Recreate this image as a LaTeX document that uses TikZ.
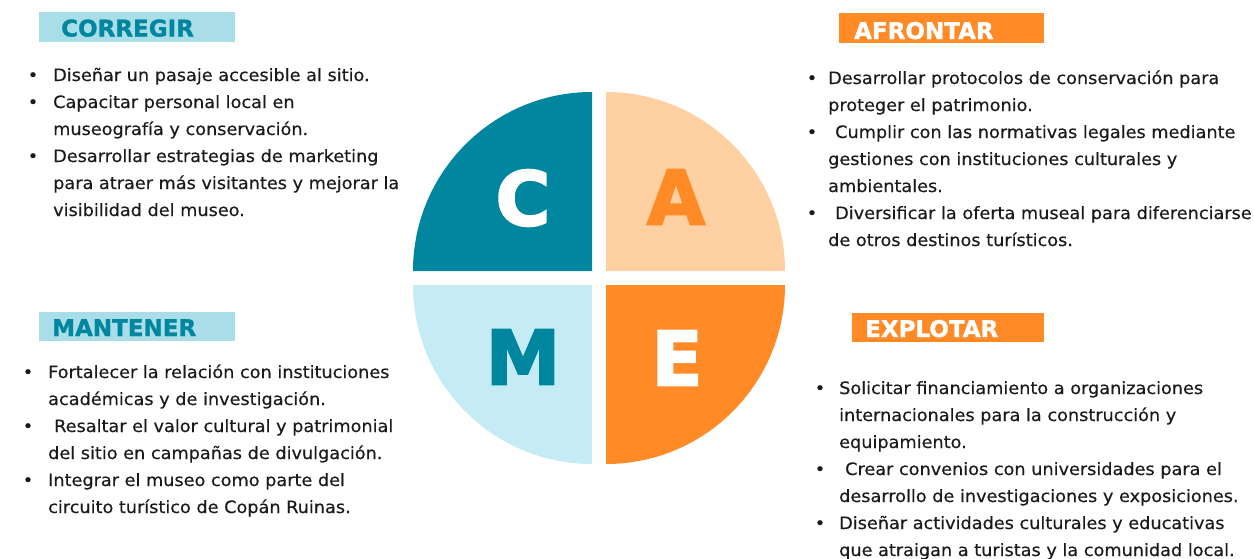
\documentclass[tikz,border=0pt]{standalone}
\usepackage{fontspec}
\setmainfont{DejaVu Sans}
\newfontfamily\bodyfont{DejaVu Sans}[FakeStretch=1.04,FakeBold=0.4]
\newfontfamily\headfont{DejaVu Sans Bold}[FakeBold=1.2]
\newfontfamily\bigfont{DejaVu Sans Bold}[FakeBold=2.5]
\definecolor{teal}{HTML}{00869F}
\definecolor{lcyan}{HTML}{C5ECF4}
\definecolor{hcyan}{HTML}{A9DDE7}
\definecolor{peach}{HTML}{FFD0A1}
\definecolor{orng}{HTML}{FF8A26}
\definecolor{bodytext}{HTML}{1A1A1A}
\tikzset{
  body/.style={font=\bodyfont\fontsize{17pt}{20pt}\selectfont, anchor=base west, inner sep=0pt, text=bodytext},
  bul/.style={font=\bodyfont\fontsize{17pt}{20pt}\selectfont, anchor=base, inner sep=0pt, text=bodytext},
  hbox/.style={anchor=north west, inner sep=0pt, minimum width=196pt, minimum height=30pt},
  htext/.style={font=\headfont\fontsize{23pt}{26pt}\selectfont, anchor=base west, inner sep=0pt},
  big/.style={font=\bigfont\fontsize{75pt}{80pt}\selectfont, inner sep=0pt}
}
\begin{document}
\begin{tikzpicture}[x=1pt,y=-1pt]
\useasboundingbox (0,0) rectangle (1254,558);
% pie quadrants
\fill[teal] (592,271) -- (413,271) arc (180:270:179) -- cycle;
\fill[peach] (606,271) -- (606,92) arc (270:360:179) -- cycle;
\fill[orng] (606,285) -- (785,285) arc (0:90:179) -- cycle;
\fill[lcyan] (592,285) -- (592,464) arc (90:180:179) -- cycle;
\node[big, text=white] (lc) at (523,198) {C};
\node[big, text=orng] (la) at (676,197) {A};
\node[big, text=teal] (lm) at (523,357) {M};
\node[big, text=white] (le) at (677,358) {E};
% headings
\node[hbox, fill=hcyan] (hc) at (39,12) {};
\node[htext, text=teal] (tc) at (61,36.5) {CORREGIR};
\node[hbox, fill=orng, minimum width=205pt] (ha) at (839,13) {};
\node[htext, text=white] (ta) at (854,39) {AFRONTAR};
\node[hbox, fill=hcyan, minimum height=29pt] (hm) at (39,312) {};
\node[htext, text=teal] (tm) at (52,336) {MANTENER};
\node[hbox, fill=orng, minimum width=192pt, minimum height=29pt] (he) at (852,313) {};
\node[htext, text=white] (te) at (865,337) {EXPLOTAR};
% CORREGIR list
\node[bul] (cb1) at (33,81) {•};
\node[body] (c1) at (53,81) {Diseñar un pasaje accesible al sitio.};
\node[bul] (cb2) at (33,108) {•};
\node[body] (c2) at (53,108) {Capacitar personal local en};
\node[body] (c3) at (53,135) {museografía y conservación.};
\node[bul] (cb3) at (33,162) {•};
\node[body] (c4) at (53,162) {Desarrollar estrategias de marketing};
\node[body] (c5) at (53,189) {para atraer más visitantes y mejorar la};
\node[body] (c6) at (53,216) {visibilidad del museo.};
% AFRONTAR list
\node[bul] (ab1) at (812,84) {•};
\node[body] (a1) at (828,84) {Desarrollar protocolos de conservación para};
\node[body] (a2) at (828,111) {proteger el patrimonio.};
\node[bul] (ab2) at (812,138) {•};
\node[body] (a3) at (835,138) {Cumplir con las normativas legales mediante};
\node[body] (a4) at (828,165) {gestiones con instituciones culturales y};
\node[body] (a5) at (828,192) {ambientales.};
\node[bul] (ab3) at (812,219) {•};
\node[body] (a6) at (835,219) {Diversificar la oferta museal para diferenciarse};
\node[body] (a7) at (828,246) {de otros destinos turísticos.};
% MANTENER list
\node[bul] (mb1) at (28,378) {•};
\node[body] (m1) at (48,378) {Fortalecer la relación con instituciones};
\node[body] (m2) at (48,405) {académicas y de investigación.};
\node[bul] (mb2) at (28,432) {•};
\node[body] (m3) at (54,432) {Resaltar el valor cultural y patrimonial};
\node[body] (m4) at (48,459) {del sitio en campañas de divulgación.};
\node[bul] (mb3) at (28,486) {•};
\node[body] (m5) at (48,486) {Integrar el museo como parte del};
\node[body] (m6) at (48,513) {circuito turístico de Copán Ruinas.};
% EXPLOTAR list
\node[bul] (eb1) at (820,394) {•};
\node[body] (e1) at (839,394) {Solicitar financiamiento a organizaciones};
\node[body] (e2) at (839,421) {internacionales para la construcción y};
\node[body] (e3) at (839,448) {equipamiento.};
\node[bul] (eb2) at (820,475) {•};
\node[body] (e4) at (845,475) {Crear convenios con universidades para el};
\node[body] (e5) at (839,502) {desarrollo de investigaciones y exposiciones.};
\node[bul] (eb3) at (820,529) {•};
\node[body] (e6) at (839,529) {Diseñar actividades culturales y educativas};
\node[body] (e7) at (839,556) {que atraigan a turistas y la comunidad local.};
\end{tikzpicture}
\end{document}
